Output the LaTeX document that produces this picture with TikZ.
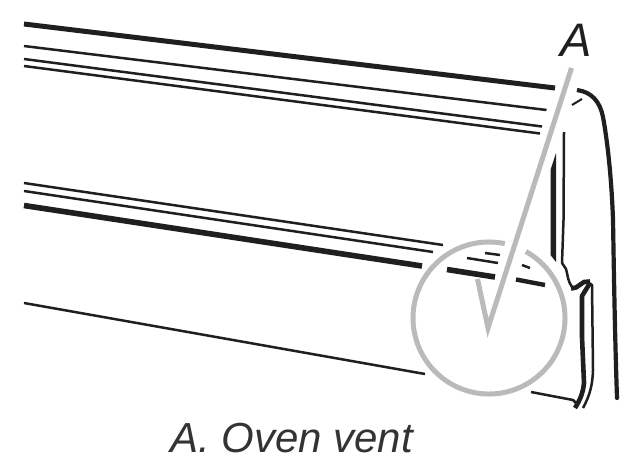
\documentclass[tikz,border=0pt]{standalone}
\usepackage{fontspec}
\setmainfont{Liberation Sans}
\tikzset{
  ink/.style={draw=black!88,line cap=butt,line join=round},
  heavy/.style={ink,line width=5pt},
  thin/.style={ink,line width=2.5pt},
  callout/.style={draw=black!27,line width=5pt},
  caption/.style={inner sep=0pt,text=black!80,anchor=base west,font=\fontsize{42}{50}\selectfont\itshape},
  letter/.style={inner sep=0pt,text=black!88,anchor=base,font=\fontsize{47}{56}\selectfont\itshape}
}
\begin{document}
\begin{tikzpicture}[x=1pt,y=-1pt]
\useasboundingbox[fill=white] (0,0) rectangle (639,463);
% upper rail
\draw[heavy] (24,24) -- (555,88);
\draw[thin] (24,46) -- (546.5,110);
\draw[thin] (24,59) -- (542,126.5);
\draw[thin] (24,66) -- (540,133.5);
% lower rail
\draw[thin] (24,183) -- (443,245);
\draw[thin] (485,253) -- (500,255);
\draw[thin] (522,265) -- (530,268);
\draw[thin] (24,191) -- (433,252);
\draw[thin] (467,258) -- (498,263);
\draw[ink,line width=5.6pt] (24,205.5) -- (422,266);
\draw[ink,line width=5.6pt] (447,269.5) -- (495,277);
\draw[ink,line width=4.4pt] (516,279.5) -- (545,285);
% bottom edge
\draw[thin] (24,303) -- (425,374);
\draw[thin] (531,392) -- (573,400) -- (576,403);
% right outline
\draw[ink,line width=4.2pt] (577,90) .. controls (592,92) and (600,102) .. (603,117)
  .. controls (609,150) and (612,190) .. (613,220) .. controls (614,280) and (615,340) .. (617,398);
\fill[black!88] (617,398) circle (2.1pt);
\draw[ink,line width=2pt] (572,105) -- (582,99);
% inner verticals
\fill[black!88] (556,153) -- (550.5,170) -- (550.5,255) -- (556,262) -- cycle;
\draw[ink,line width=2.5pt] (564,132) -- (563.5,220) -- (562,263) -- (566,269)
  .. controls (568,275) and (567,281) .. (573,288);
\draw[ink,line width=4.6pt] (571,288.5) -- (576,287.5) -- (584,282) -- (590,281.5);
\draw[ink,line width=2.5pt] (586,281) -- (592,285) -- (593,370) .. controls (592.5,385) and (590,395) .. (583,408);
\draw[ink,line width=4.6pt] (590,283) -- (582,296) -- (582,337) -- (584,383) .. controls (583,393) and (580,400) .. (575,408);
% callout
\node[letter] (letterA) at (576,56) {A};
\node[caption] (cap) at (170,452) {A. Oven vent};
\draw[callout,miter limit=10] (571.5,68) -- (488,328) -- (477.5,279);
\draw[callout] (489,318) ++(-78:76) arc[start angle=-78,end angle=-421,radius=76];
\end{tikzpicture}
\end{document}
